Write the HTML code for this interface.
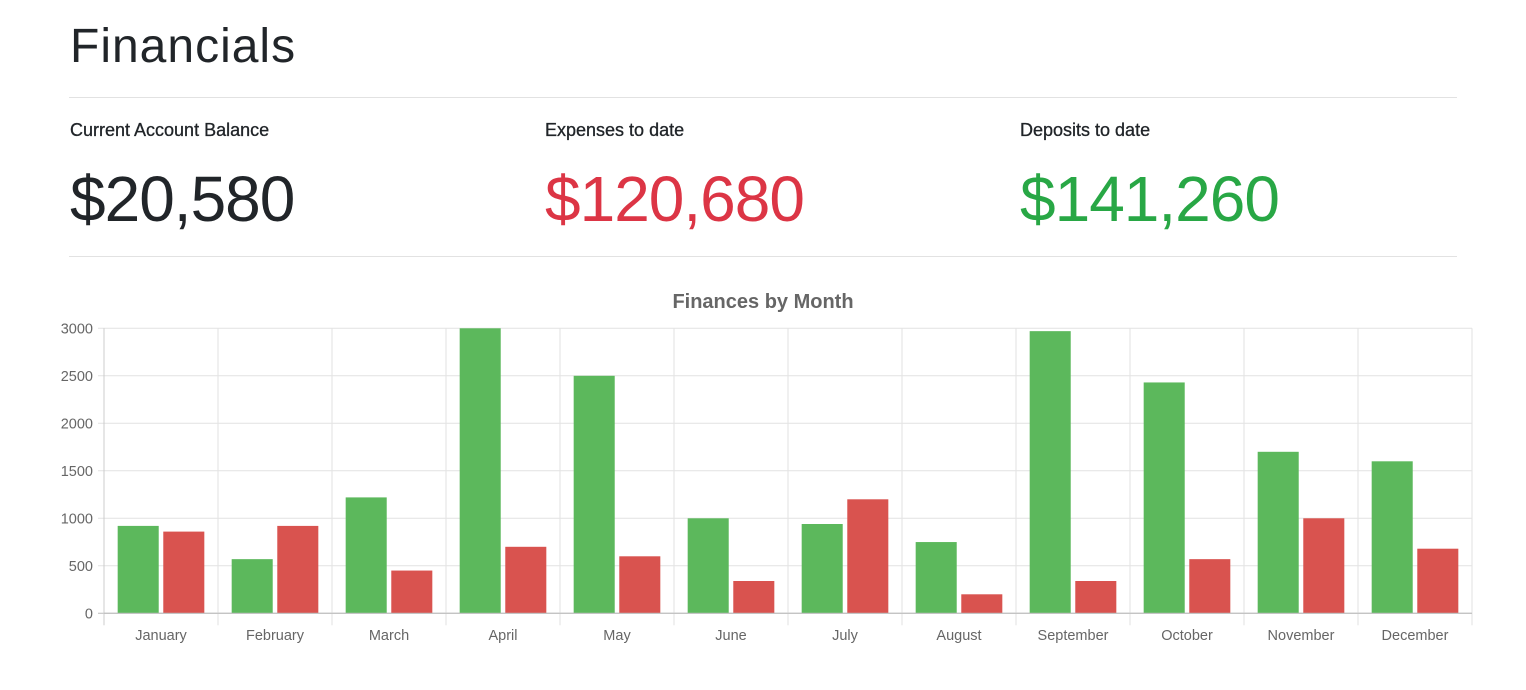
<!DOCTYPE html>
<html><head><meta charset="utf-8"><style>
body{margin:0;width:1526px;height:690px;background:#fff;font-family:"Liberation Sans",sans-serif;overflow:hidden;position:relative}
h1{position:absolute;left:70px;top:19px;margin:0;font-size:48px;font-weight:normal;letter-spacing:1px;color:#212529}
.hr{position:absolute;left:69px;width:1388px;height:1px;background:#e2e2e2}
.lab{position:absolute;top:120px;font-size:18px;color:#212529;-webkit-text-stroke:0.3px #212529}
.val{position:absolute;top:162px;font-size:64px;font-weight:300;letter-spacing:-1px}
</style></head><body>
<h1>Financials</h1>
<div class="hr" style="top:97px"></div>
<div class="lab" style="left:70px">Current Account Balance</div>
<div class="val" style="left:70px;color:#212529">$20,580</div>
<div class="lab" style="left:545px">Expenses to date</div>
<div class="val" style="left:545px;color:#dc3545">$120,680</div>
<div class="lab" style="left:1020px">Deposits to date</div>
<div class="val" style="left:1020px;color:#28a745">$141,260</div>
<div class="hr" style="top:256px"></div>
<svg id="chart" width="1526" height="690" style="position:absolute;left:0;top:0"></svg>
<script>
const months=["January","February","March","April","May","June","July","August","September","October","November","December"];
const deposits=[920,570,1220,3000,2500,1000,940,750,2970,2430,1700,1600];
const expenses=[860,920,450,700,600,340,1200,200,340,570,1000,680];
const yTicks=[0,500,1000,1500,2000,2500,3000];
const NS="http://www.w3.org/2000/svg";
const svg=document.getElementById('chart');
const L=104,R=1472,T=328.3,B=613.3,yMax=3000;
const y=v=>B-(v/yMax)*(B-T);
const cw=(R-L)/months.length;
const x=i=>L+i*cw;
function mk(tag,a){const e=document.createElementNS(NS,tag);for(const k in a)e.setAttribute(k,a[k]);svg.appendChild(e);return e;}
const title=mk('text',{x:763,y:308,'text-anchor':'middle','font-size':20,'font-weight':'bold',fill:'#666','font-family':'Liberation Sans, sans-serif'});
title.textContent='Finances by Month';


yTicks.forEach(t=>{
  const g=mk('line',{x1:L-6,x2:R,y1:y(t),y2:y(t),stroke:t===0?'#bbb':'#e2e2e2'});
  
  
  const tx=mk('text',{x:L-11,y:y(t)+5,'text-anchor':'end','font-size':14.5,fill:'#666','font-family':'Liberation Sans, sans-serif'});
  tx.textContent=t;
  
  
});
for(let i=0;i<=months.length;i++){
  const g=mk('line',{x1:x(i),x2:x(i),y1:T,y2:B+12,stroke:i===0?'#ccc':'#e2e2e2'});
  
  
}
const slot=cw*0.8/2,bw=slot*0.9;
months.forEach((m,i)=>{
  const c0=x(i)+cw*0.1;
  const g=mk('rect',{x:c0+(slot-bw)/2,y:y(deposits[i]),width:bw,height:B-y(deposits[i]),fill:'#5cb85c'});
  
  
  const r=mk('rect',{x:c0+slot+(slot-bw)/2,y:y(expenses[i]),width:bw,height:B-y(expenses[i]),fill:'#d9534f'});
  
  
  const tx=mk('text',{x:x(i)+cw/2,y:640,'text-anchor':'middle','font-size':14.5,fill:'#666','font-family':'Liberation Sans, sans-serif'});
  tx.textContent=m;
  
  
});
mk('line',{x1:L,x2:R,y1:B,y2:B,stroke:'#bbb'});
</script>
</body></html>
